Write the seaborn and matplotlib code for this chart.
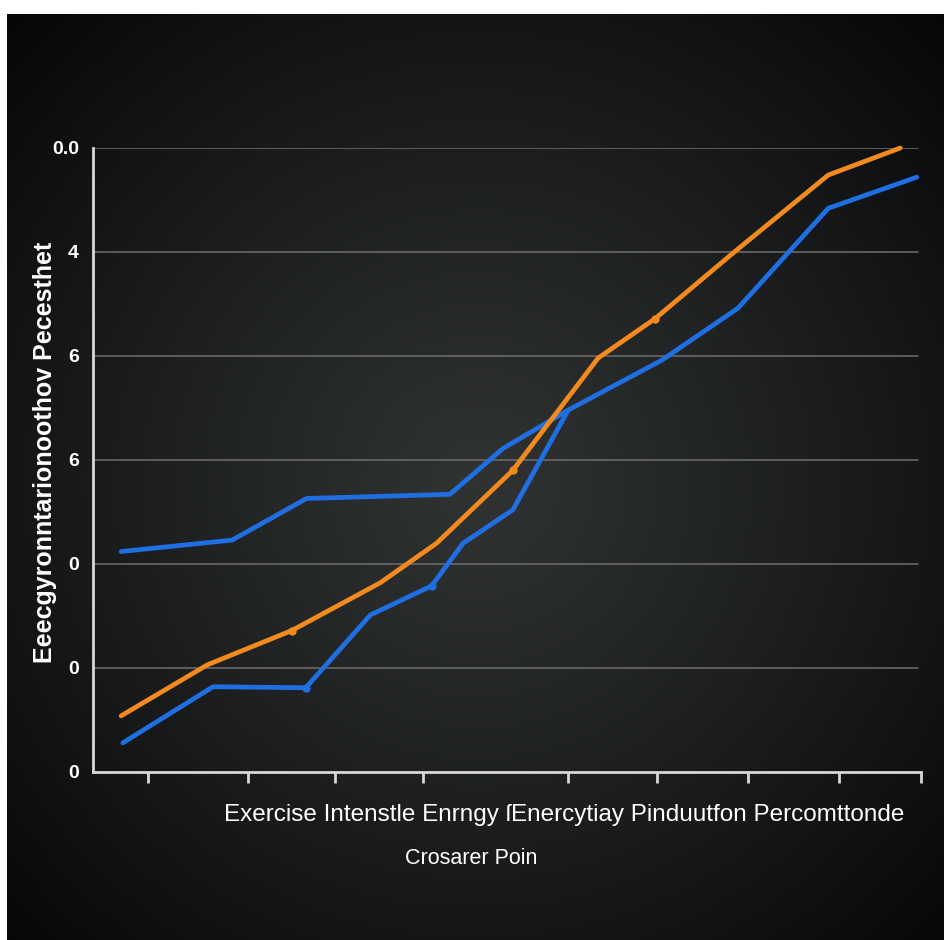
import numpy as np
import pandas as pd
import seaborn as sns
import matplotlib
matplotlib.use("Agg")
import matplotlib.pyplot as plt
from matplotlib.ticker import MultipleLocator

# data (x: 0-10 along the axis, y: 0-6)
orange_x = [0.34, 1.38, 2.40, 3.47, 4.15, 5.07, 6.10, 6.79, 7.73, 8.88, 9.75]
orange_y = [0.54, 1.03, 1.36, 1.82, 2.20, 2.90, 3.98, 4.36, 4.99, 5.74, 6.00]

blue_a_x = [0.34, 1.68, 2.58, 4.31, 4.95, 5.74]
blue_a_y = [2.12, 2.23, 2.63, 2.67, 3.11, 3.48]

blue_b_x = [0.36, 1.45, 2.57, 3.35, 4.09, 4.47, 5.07, 5.74, 6.87, 7.79, 8.88, 9.95]
blue_b_y = [0.28, 0.82, 0.81, 1.51, 1.79, 2.20, 2.52, 3.48, 3.96, 4.46, 5.42, 5.72]

x_ticks = [0.66, 1.87, 2.92, 3.99, 5.74, 6.81, 7.91, 9.01, 10.0]
y_ticks = [0, 1, 2, 3, 4, 5, 6]
y_tick_labels = ["0", "0", "0", "6", "6", "4", "0.0"]

x_title = "Exercise Intenstle Enrngy \u017fEnercytiay Pinduutfon Percomttonde"
x_subtitle = "Crosarer Poin"
y_title = "Eeecgyronntarionoothov Pecesthet"

sns.set_style("dark")
plt.rcParams['font.family'] = ['Liberation Sans', 'DejaVu Sans']

fig = plt.figure(figsize=(9.45, 9.40), dpi=100)
fig.patch.set_facecolor("white")

# dark radial background panel
bg = fig.add_axes([7 / 945, 0, 938 / 945, 926 / 940])
bg.set_axis_off()
yy, xx = np.mgrid[0:926, 0:938]
r = np.sqrt((xx - 470.0) ** 2 + (yy - 470.0) ** 2) / 650.0
r = np.clip(r, 0, 1)
c0 = np.array([0.19, 0.20, 0.20])
c1 = np.array([0.025, 0.03, 0.035])
img = c0[None, None, :] * (1 - r[..., None] ** 1.1) + c1[None, None, :] * (r[..., None] ** 1.1)
bg.imshow(img, aspect="auto", extent=[0, 1, 0, 1])

ax = fig.add_axes([93 / 945, 1 - 772 / 940, 828 / 945, 624 / 940])
ax.set_facecolor("none")

df_o = pd.DataFrame({"x": orange_x, "y": orange_y})
df_a = pd.DataFrame({"x": blue_a_x, "y": blue_a_y})
df_b = pd.DataFrame({"x": blue_b_x, "y": blue_b_y})

orange = "#f28a1f"
blue = "#1f6fe3"

sns.lineplot(data=df_a, x="x", y="y", sort=False, ax=ax, color=blue, lw=3.4,
             solid_capstyle="round", clip_on=False)
sns.lineplot(data=df_b, x="x", y="y", sort=False, ax=ax, color=blue, lw=3.4,
             marker="o", markersize=6, markevery=[2, 4], markeredgewidth=0,
             solid_capstyle="round", clip_on=False)
sns.lineplot(data=df_o, x="x", y="y", sort=False, ax=ax, color=orange, lw=3.4,
             marker="o", markersize=6, markevery=[2, 5, 7], markeredgewidth=0,
             solid_capstyle="round", clip_on=False)

ax.set_xlim(0, 10)
ax.set_ylim(0, 6)

ax.set_yticks(y_ticks)
ax.set_yticklabels(y_tick_labels)
ax.yaxis.set_minor_locator(MultipleLocator(0.5))
ax.set_xticks(x_ticks)
ax.set_xticklabels([])

ax.grid(False)
for yv in y_ticks[1:]:
    ax.axhline(yv, xmin=0, xmax=825 / 828, color="#6e6e6e", lw=1.1, zorder=0)

for side in ["top", "right"]:
    ax.spines[side].set_visible(False)
for side in ["left", "bottom"]:
    ax.spines[side].set_color("#d8d8d8")
    ax.spines[side].set_linewidth(2)

ax.tick_params(axis="y", which="major", direction="out", length=6, width=1.2,
               color="#bbbbbb", labelcolor="white", labelsize=14, pad=4)
ax.tick_params(axis="y", which="minor", direction="out", length=3, width=1,
               color="#999999")
ax.tick_params(axis="x", which="major", direction="out", length=8, width=2,
               color="#d8d8d8", left=True, bottom=True)
for lbl in ax.get_yticklabels():
    lbl.set_fontweight("bold")

ax.set_xlabel("")
ax.set_ylabel("")

fig.text(564 / 945, 1 - 815 / 940, x_title, color="white", fontsize=17.5,
         ha="center", va="center")
fig.text(471 / 945, 1 - 858 / 940, x_subtitle, color="white", fontsize=15.5,
         ha="center", va="center")
fig.text(45 / 945, 1 - 452 / 940, y_title, color="white", fontsize=18,
         fontweight="bold", rotation=90, ha="center", va="center")

fig.savefig("out.png", dpi=100, facecolor="white")
